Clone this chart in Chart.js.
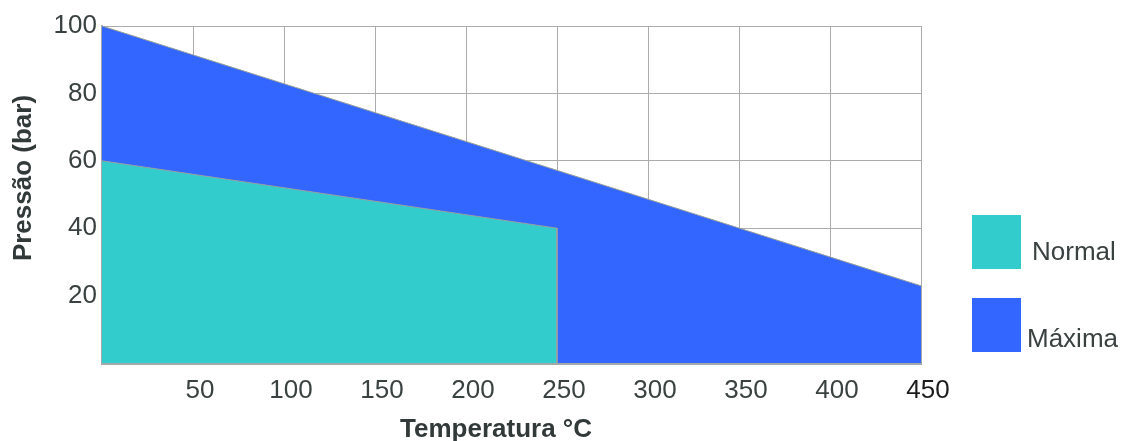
<!DOCTYPE html>
<html>
<head>
<meta charset="utf-8">
<script src="https://cdn.jsdelivr.net/npm/chart.js@4"></script>
<style>
  html, body { margin: 0; padding: 0; background: #ffffff; }
  #wrap { width: 1129px; height: 441px; position: relative; }
</style>
</head>
<body>
<div id="wrap"><canvas id="c" width="1129" height="441"></canvas></div>
<script>
// ---- data ----
const seriesLabels = ['Normal', 'Máxima'];
const normalTemps = [0, 250, 250];
const normalPressure = [60, 40, 0];
const maxTemps = [0, 450];
const maxPressure = [100, 22.9];
const xTickValues = [0, 50, 100, 150, 200, 250, 300, 350, 400, 450];
const yTickValues = [0, 20, 40, 60, 80, 100];
const xTitle = 'Temperatura °C';
const yTitle = 'Pressão (bar)';

const toPoints = (xs, ys) => xs.map((x, i) => ({ x: x, y: ys[i] }));

const COL_NORMAL = '#33CCCC';
const COL_MAX = '#3366FF';
const TEXT = '#3a4141';
const GRID = '#ababab';
const FONT = '"Liberation Sans", Arial, sans-serif';

const overlay = {
  id: 'overlay',
  afterDraw(chart) {
    const ctx = chart.ctx;
    ctx.save();
    // axis titles
    ctx.fillStyle = '#323939';
    ctx.font = 'bold 26px ' + FONT;
    ctx.textAlign = 'center';
    ctx.textBaseline = 'middle';
    ctx.fillText(xTitle, 496, 430);
    ctx.translate(24, 178);
    ctx.rotate(-Math.PI / 2);
    ctx.fillText(yTitle, 0, 0);
    ctx.restore();

    // legend
    ctx.save();
    const items = [
      { ds: chart.data.datasets[0], box: [972, 215, 49, 54], tx: 1032, ty: 251 },
      { ds: chart.data.datasets[1], box: [972, 298, 49, 54], tx: 1027, ty: 338 }
    ];
    ctx.font = '26px ' + FONT;
    ctx.textAlign = 'left';
    ctx.textBaseline = 'middle';
    items.forEach(it => {
      ctx.fillStyle = it.ds.backgroundColor;
      ctx.fillRect(it.box[0], it.box[1], it.box[2], it.box[3]);
      ctx.fillStyle = TEXT;
      ctx.fillText(it.ds.label, it.tx, it.ty + 2);
    });
    ctx.restore();
  }
};

new Chart(document.getElementById('c'), {
  type: 'line',
  data: {
    datasets: [
      {
        label: seriesLabels[0],
        data: toPoints(normalTemps, normalPressure),
        backgroundColor: COL_NORMAL,
        borderColor: '#9aa0a0',
        borderWidth: 1,
        fill: 'origin',
        pointRadius: 0,
        tension: 0
      },
      {
        label: seriesLabels[1],
        data: toPoints(maxTemps, maxPressure),
        backgroundColor: COL_MAX,
        borderColor: '#9aa0a0',
        borderWidth: 1,
        fill: 'origin',
        pointRadius: 0,
        tension: 0
      }
    ]
  },
  options: {
    responsive: false,
    animation: false,
    devicePixelRatio: 1,
    layout: { padding: { top: 26, right: 208, bottom: 0, left: 0 } },
    plugins: {
      legend: { display: false },
      tooltip: { enabled: false },
      title: { display: false }
    },
    scales: {
      x: {
        type: 'linear',
        min: 0,
        max: 450,
        z: 1,
        afterFit: s => { s.height = 78; },
        afterBuildTicks: s => { s.ticks = xTickValues.map(v => ({ value: v })); },
        grid: { color: GRID, lineWidth: 1, drawTicks: false },
        border: { color: '#a3a9a9', width: 3 },
        ticks: {
          padding: 12,
          labelOffset: 7,
          maxRotation: 0,
          autoSkip: false,
          font: { size: 26, family: FONT },
          color: ctx => (ctx.tick && ctx.tick.value === 450) ? '#1c1c1c' : TEXT,
          callback: v => (v === 0 ? '' : String(v))
        }
      },
      y: {
        min: 0,
        max: 100,
        z: 1,
        afterFit: s => { s.width = 102; },
        afterBuildTicks: s => { s.ticks = yTickValues.map(v => ({ value: v })); },
        grid: { color: GRID, lineWidth: 1, drawTicks: false },
        border: { color: '#a3a9a9', width: 2 },
        ticks: {
          padding: 5,
          font: { size: 26, family: FONT },
          color: TEXT,
          callback: v => (v === 0 ? '' : String(v))
        }
      }
    }
  },
  plugins: [overlay]
});
</script>
</body>
</html>
